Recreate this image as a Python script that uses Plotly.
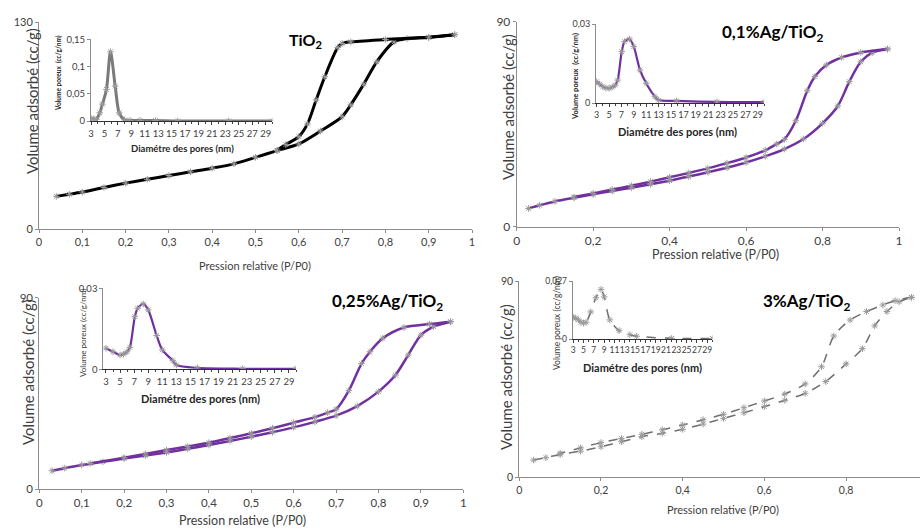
import plotly.graph_objects as go

W, H = 920, 529

# ---------------- DATA ----------------
# Panel 1 : TiO2
tio2_ads_x = [0.04, 0.07, 0.1, 0.15, 0.2, 0.25, 0.3, 0.35, 0.4, 0.45, 0.5, 0.55, 0.6, 0.65, 0.7, 0.72, 0.75, 0.78, 0.82, 0.85, 0.9, 0.96]
tio2_ads_y = [20.5, 21.8, 23.2, 26.1, 28.8, 31.2, 33.6, 35.9, 38.2, 40.9, 45, 49.2, 53.4, 61.5, 70.6, 78, 91, 105, 117.5, 119.6, 120.3, 122]
tio2_des_x = [0.96, 0.9, 0.8, 0.72, 0.7, 0.69, 0.66, 0.64, 0.62, 0.6, 0.57, 0.55]
tio2_des_y = [122, 120.5, 119, 117.5, 116.5, 114, 95.6, 81, 66, 58, 53, 49.5]
tio2_psd_x = [3.1, 3.4, 3.8, 4.3, 4.7, 5.3, 5.9, 6.6, 7.2, 8.0, 8.8, 10.3, 12.6, 15.9, 23.5, 30]
tio2_psd_y = [0.004, 0.004, 0.003, 0.015, 0.031, 0.058, 0.127, 0.064, 0.015, 0.002, 0.001, 0.001, 0.001, 0.0, 0.0, 0.0]

# Panel 2 : 0,1%Ag/TiO2
ag01_ads_x = [0.031, 0.06, 0.1, 0.15, 0.2, 0.25, 0.3, 0.35, 0.4, 0.45, 0.5, 0.55, 0.6, 0.65, 0.7, 0.75, 0.8, 0.84, 0.87, 0.9, 0.93, 0.97]
ag01_ads_y = [8.0, 9.4, 11.1, 12.7, 14.2, 15.7, 17.1, 18.6, 20.2, 22.0, 23.9, 25.9, 28.2, 30.9, 34.1, 38.5, 45.4, 53, 63.7, 72.4, 76.4, 78]
ag01_des_x = [0.97, 0.9, 0.85, 0.81, 0.78, 0.76, 0.73, 0.7, 0.68, 0.65, 0.6, 0.55, 0.5, 0.45, 0.4, 0.35, 0.3, 0.25, 0.2, 0.15]
ag01_des_y = [78, 76.5, 74.3, 71, 65.9, 59.7, 46.5, 38.3, 36.3, 33.5, 30.4, 27.9, 25.6, 23.6, 21.7, 19.8, 18, 16.3, 14.6, 13]
ag01_psd_x = [3.0, 3.5, 4.0, 4.5, 5.0, 5.5, 6.0, 6.4, 7.05, 7.5, 8.3, 9.0, 10.0, 11.0, 12.4, 13.0, 15.9, 22.4, 30]
ag01_psd_y = [0.0081, 0.0072, 0.0062, 0.0057, 0.0056, 0.006, 0.0068, 0.0087, 0.0195, 0.0233, 0.0243, 0.0214,
              0.0125, 0.0075, 0.0024, 0.0011, 0.0008, 0.0004, 0.0003]

# Panel 3 : 0,25%Ag/TiO2
ag025_ads_x = [0.03, 0.06, 0.1, 0.15, 0.2, 0.25, 0.3, 0.35, 0.4, 0.45, 0.5, 0.55, 0.6, 0.65, 0.7, 0.75, 0.8, 0.84, 0.87, 0.9, 0.93, 0.97]
ag025_ads_y = [8.6, 9.8, 11.3, 12.8, 14.3, 15.7, 17.2, 18.9, 20.7, 22.6, 24.6, 26.7, 29, 31.6, 34.5, 39, 45.8, 53.6, 63, 72.4, 76.4, 78.7]
ag025_des_x = [0.97, 0.92, 0.86, 0.81, 0.78, 0.76, 0.73, 0.7, 0.68, 0.65, 0.6, 0.55, 0.5, 0.45, 0.4, 0.35, 0.3, 0.25, 0.2, 0.12]
ag025_des_y = [78.7, 77.6, 76, 70.9, 64.6, 59, 46.3, 37.5, 35.9, 33.8, 31.2, 28.6, 26.2, 24, 21.8, 20, 18.3, 16.5, 14.7, 12]
ag025_psd_x = [3.0, 4.0, 5.0, 5.5, 6.0, 6.4, 7.1, 7.5, 8.3, 9.0, 10.2, 11.0, 12.5, 13.0, 16.0, 22.4, 30]
ag025_psd_y = [0.0078, 0.0065, 0.0053, 0.0056, 0.0065, 0.0081, 0.0195, 0.0226, 0.0242, 0.022, 0.0125,
               0.0072, 0.0032, 0.0016, 0.0005, 0.0002, 0.0002]

# Panel 4 : 3%Ag/TiO2
ag3_ads_x = [0.035, 0.065, 0.1, 0.15, 0.2, 0.25, 0.3, 0.35, 0.4, 0.45, 0.5, 0.55, 0.6, 0.65, 0.7, 0.75, 0.8, 0.84, 0.87, 0.9, 0.93, 0.96]
ag3_ads_y = [7.9, 9, 10.5, 12, 14, 16.3, 18.6, 20.2, 22, 24.4, 27, 29.6, 32.4, 35.3, 38.5, 43.9, 52, 59, 69.4, 76, 80.5, 82.5]
ag3_des_x = [0.96, 0.92, 0.89, 0.85, 0.81, 0.77, 0.74, 0.7, 0.65, 0.6, 0.55, 0.5, 0.45, 0.4, 0.35, 0.3, 0.25, 0.2, 0.15, 0.1]
ag3_des_y = [82.5, 81, 79, 76, 72.1, 64.8, 50.7, 42.8, 38.2, 35, 31.9, 28.9, 26.4, 24, 21.8, 19.7, 17.8, 15.9, 13.5, 11]
ag3_psd_x = [3.0, 3.5, 4.0, 4.5, 5.0, 5.5, 6.4, 7.4, 8.4, 9.0, 10.1, 11.9, 14.0, 15.3, 22.1, 30]
ag3_psd_y = [0.0102, 0.0097, 0.0089, 0.0078, 0.0074, 0.0078, 0.0126, 0.0192, 0.0231, 0.0196, 0.0089,
             0.0039, 0.002, 0.0013, 0.0003, 0.0003]

# Tick labels
main_x_ticks_a = [0, 0.1, 0.2, 0.3, 0.4, 0.5, 0.6, 0.7, 0.8, 0.9, 1]
main_x_ticks_b = [0, 0.2, 0.4, 0.6, 0.8, 1]
tio2_y_ticks = [0, 130]
ag_y_ticks = [0, 90]
psd_x_ticks = list(range(3, 30, 2))
tio2_psd_y_ticks = [0, 0.05, 0.1, 0.15]
ag_psd_y_ticks = [0, 0.03]
ag3_psd_y_ticks = [0, 0.027]

titles = ["TiO<sub>2</sub>", "0,1%Ag/TiO<sub>2</sub>", "0,25%Ag/TiO<sub>2</sub>", "3%Ag/TiO<sub>2</sub>"]

# ---------------- STYLE ----------------
FONT = "Lato"
PURPLE = "#7030A0"
GREY_AX = "#8c8c8c"
MK = dict(symbol="asterisk-open", size=5.5, color="#9a9a9a", line=dict(width=1, color="#9a9a9a"))


def fx(p):
    return p / W


def fy(p):
    return 1 - p / H


fig = go.Figure()

panels = [
    dict(i=1, xd=(39, 472), yd=(22, 229), xr=[0, 1], yr=[0, 130], xt=main_x_ticks_a, yt=tio2_y_ticks, fs=11),
    dict(i=2, xd=(516.7, 899), yd=(21.7, 226.7), xr=[0, 1], yr=[0, 90], xt=main_x_ticks_b, yt=ag_y_ticks, fs=12),
    dict(i=3, xd=(39.3, 463.3), yd=(297.7, 489), xr=[0, 1], yr=[0, 90], xt=main_x_ticks_a, yt=ag_y_ticks, fs=11.5),
    dict(i=4, xd=(519.3, 920), yd=(281, 477.3), xr=[0, 0.981], yr=[0, 90], xt=main_x_ticks_b[:-1], yt=ag_y_ticks, fs=10.5),
    dict(i=5, xd=(91, 272.4), yd=(39.3, 121), xr=[3, 30], yr=[0, 0.15], xt=psd_x_ticks, yt=tio2_psd_y_ticks, fs=9.5, inset=True),
    dict(i=6, xd=(596, 764), yd=(24, 103), xr=[2.9, 30], yr=[0, 0.03], xt=psd_x_ticks, yt=ag_psd_y_ticks, fs=9, inset=True),
    dict(i=7, xd=(103.3, 296), yd=(288.3, 369.3), xr=[2.62, 30], yr=[0, 0.03], xt=psd_x_ticks, yt=ag_psd_y_ticks, fs=9.5, inset=True),
    dict(i=8, xd=(572.7, 712.4), yd=(281, 339), xr=[2.9, 30], yr=[0, 0.027], xt=psd_x_ticks, yt=ag3_psd_y_ticks, fs=8.5, inset=True),
]

layout_axes = {}
for p in panels:
    i = p["i"]
    inset = p.get("inset", False)
    xname = "xaxis" if i == 1 else f"xaxis{i}"
    yname = "yaxis" if i == 1 else f"yaxis{i}"
    xa = dict(
        domain=[fx(p["xd"][0]), fx(p["xd"][1])], range=p["xr"], anchor="y" if i == 1 else f"y{i}",
        tickvals=p["xt"], ticks="outside", ticklen=3, tickcolor="#404040" if inset else GREY_AX,
        showline=True, linecolor="#303030" if inset else GREY_AX, linewidth=1.3 if inset else 1,
        showgrid=False, zeroline=False, tickfont=dict(family=FONT, size=p["fs"], color="#404040"),
        tickangle=0, automargin=False, fixedrange=True,
    )
    if inset:
        xa["minor"] = dict(dtick=1, tick0=0, ticks="outside", ticklen=2, tickcolor="#404040", showgrid=False)
    layout_axes[xname] = xa
    layout_axes[yname] = dict(
        domain=[fy(p["yd"][1]), fy(p["yd"][0])], range=p["yr"], anchor="x" if i == 1 else f"x{i}",
        tickvals=p["yt"], ticks="outside", ticklen=3, tickcolor=GREY_AX,
        showline=True, linecolor=GREY_AX, linewidth=1,
        showgrid=False, zeroline=False, tickfont=dict(family=FONT, size=p["fs"], color="#404040"),
        automargin=False, fixedrange=True,
    )


def ax(i):
    return ("x" if i == 1 else f"x{i}", "y" if i == 1 else f"y{i}")


def add(i, xs, ys, color, width, dash="solid"):
    xa, ya = ax(i)
    fig.add_trace(go.Scatter(
        x=xs, y=ys, xaxis=xa, yaxis=ya, mode="lines+markers",
        line=dict(color=color, width=width, shape="spline", smoothing=0.8, dash=dash),
        marker=MK, showlegend=False, hoverinfo="skip"))


add(1, tio2_ads_x, tio2_ads_y, "#000000", 3)
add(1, tio2_des_x, tio2_des_y, "#000000", 3)
add(2, ag01_ads_x, ag01_ads_y, PURPLE, 2.5)
add(2, ag01_des_x, ag01_des_y, PURPLE, 2.5)
add(3, ag025_ads_x, ag025_ads_y, PURPLE, 2.5)
add(3, ag025_des_x, ag025_des_y, PURPLE, 2.5)
add(4, ag3_ads_x, ag3_ads_y, "#6f6f6f", 1.5, "dash")
add(4, ag3_des_x, ag3_des_y, "#6f6f6f", 1.5, "dash")
add(5, tio2_psd_x, tio2_psd_y, "#7a7a7a", 3)
add(6, ag01_psd_x, ag01_psd_y, PURPLE, 2.2)
add(7, ag025_psd_x, ag025_psd_y, PURPLE, 2.2)
add(8, ag3_psd_x, ag3_psd_y, "#6f6f6f", 1.5, "dash")

annotations = []


def note(text, x, y, size, bold=False, angle=0, color="#404040"):
    annotations.append(dict(
        text=f"<b>{text}</b>" if bold else text, x=fx(x), y=fy(y), xref="paper", yref="paper",
        showarrow=False, textangle=angle, xanchor="center", yanchor="middle",
        font=dict(family=FONT, size=size, color=color)))


note(titles[0], 305, 40, 16, bold=True, color="#000000")
note(titles[1], 772, 33, 17, bold=True, color="#000000")
note(titles[2], 387, 302, 17, bold=True, color="#000000")
note(titles[3], 807, 302, 17, bold=True, color="#000000")

note("Volume adsorbé (cc/g)", 32, 101, 15, angle=-90)
note("Volume adsorbé (cc/g)", 508, 107, 15, angle=-90)
note("Volume adsorbé (cc/g)", 28, 372, 15, angle=-90)
note("Volume adsorbé (cc/g)", 506, 377, 15, angle=-90)
note("Pression relative (P/P0)", 255, 265, 11)
note("Pression relative (P/P0)", 715, 255, 12.5)
note("Pression relative (P/P0)", 243, 520, 12.5)
note("Pression relative (P/P0)", 723, 509, 11)

note("Diamétre des pores (nm)", 182, 148, 9.5, bold=True, color="#262626")
note("Diamétre des pores (nm)", 677, 132, 11, bold=True, color="#262626")
note("Diamétre des pores (nm)", 200, 398, 11, bold=True, color="#262626")
note("Diamétre des pores (nm)", 642, 367, 11, bold=True, color="#262626")
note("Volume poreux  (cc/g/nm)", 59, 73, 6.5, bold=True, angle=-90, color="#262626")
note("Volume poreux  (cc/g/nm)", 575, 77, 7.5, bold=True, angle=-90, color="#262626")
note("Volume poreux (cc/g/nm)", 83, 333, 8, angle=-90, color="#404040")
note("Volume poreux (cc/g/nm)", 557, 323, 8.5, angle=-90, color="#404040")

fig.update_layout(
    width=W, height=H, margin=dict(l=0, r=0, t=0, b=0),
    paper_bgcolor="white", plot_bgcolor="rgba(0,0,0,0)",
    separators=", ", showlegend=False, annotations=annotations,
    **layout_axes,
)

fig.write_html("out.html", config={"displayModeBar": False},
               post_script="document.body.style.margin='0';document.body.style.overflow='hidden';")
